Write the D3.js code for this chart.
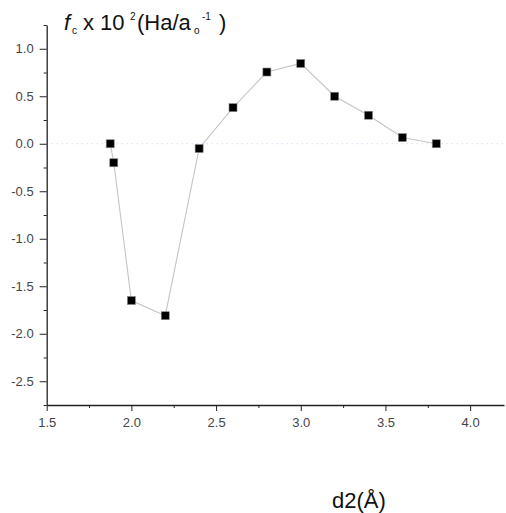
<!DOCTYPE html>
<html>
<head>
<meta charset="utf-8">
<script src="https://cdn.jsdelivr.net/npm/d3@7.9.0/dist/d3.min.js"></script>
<style>
  body { margin: 0; background: #fff; }
  svg { display: block; font-family: "Liberation Sans", Arial, sans-serif; }
</style>
</head>
<body>
<svg id="chart" width="506" height="513"></svg>
<script>
// Data
const d2 = [1.875, 1.896, 2.0, 2.2, 2.4, 2.6, 2.8, 3.0, 3.2, 3.4, 3.6, 3.8];
const fc = [0.0, -0.2, -1.65, -1.81, -0.05, 0.38, 0.755, 0.845, 0.5, 0.3, 0.065, 0.0];
const xTicks = [1.5, 2.0, 2.5, 3.0, 3.5, 4.0];
const yTicks = [-2.5, -2.0, -1.5, -1.0, -0.5, 0.0, 0.5, 1.0];

const svg = d3.select("#chart");

const x = d3.scaleLinear().domain([1.5, 4.2]).range([46.7, 504]);
const y = d3.scaleLinear().domain([-2.75, 1.25]).range([405, 25]);

const points = d2.map((v, i) => ({ x: v, y: fc[i] }));

const isMajor = (list, d) => list.some(t => Math.abs(t - d) < 1e-6);
const fmt = d => d3.format(".1f")(d).replace("−", "-");

// zero reference line
svg.append("line")
  .attr("x1", x(1.5)).attr("x2", 506)
  .attr("y1", y(0)).attr("y2", y(0))
  .attr("stroke", "#c8c8f0")
  .attr("stroke-width", 1)
  .attr("stroke-dasharray", "1,4");

// axes
const xAxis = d3.axisBottom(x)
  .tickValues(d3.range(1.5, 4.21, 0.25))
  .tickFormat(d => isMajor(xTicks, d) ? fmt(d) : "")
  .tickSizeOuter(0);

const gx = svg.append("g")
  .attr("transform", `translate(0,${y.range()[0]})`)
  .call(xAxis);

gx.selectAll(".tick line")
  .attr("y2", d => isMajor(xTicks, d) ? 6 : 3);

const yAxis = d3.axisLeft(y)
  .tickValues(d3.range(-2.75, 1.26, 0.25))
  .tickFormat(d => isMajor(yTicks, d) ? fmt(d) : "")
  .tickSizeOuter(0);

const gy = svg.append("g")
  .attr("transform", `translate(${x.range()[0]},0)`)
  .call(yAxis);

gy.selectAll(".tick line")
  .attr("x2", d => isMajor(yTicks, d) ? -7 : -3);

[gx, gy].forEach(g => {
  g.select(".domain").attr("stroke", "#222").attr("stroke-width", 1.3);
  g.selectAll(".tick line").attr("stroke", "#222");
  g.selectAll(".tick text")
    .attr("fill", "#444")
    .style("font-size", "13px")
    .style("font-family", "'Liberation Sans', Arial, sans-serif");
});
gx.selectAll(".tick text").attr("y", 10).attr("dy", "0.95em");
gy.selectAll(".tick text").attr("x", -13);

// data line
svg.append("path")
  .datum(points)
  .attr("fill", "none")
  .attr("stroke", "#c4c4c4")
  .attr("stroke-width", 1.1)
  .attr("d", d3.line().x(d => x(d.x)).y(d => y(d.y)));

// square markers
svg.selectAll("rect.pt")
  .data(points)
  .join("rect")
  .attr("class", "pt")
  .attr("x", d => x(d.x) - 4)
  .attr("y", d => y(d.y) - 4)
  .attr("width", 8)
  .attr("height", 8)
  .attr("fill", "#000")
  .attr("stroke", "#888")
  .attr("stroke-width", 0.6);

// y title
const title = svg.append("text")
  .attr("y", 30)
  .attr("fill", "#111")
  .style("font-size", "22px");
title.append("tspan").attr("x", 64).attr("font-style", "italic").text("f");
title.append("tspan").attr("x", 72).attr("dy", 4).style("font-size", "10px").text("c");
title.append("tspan").attr("x", 83).attr("dy", -4).text("x 10");
title.append("tspan").attr("x", 130).attr("dy", -10).style("font-size", "10px").text("2");
title.append("tspan").attr("x", 137).attr("dy", 10).text("(Ha/a");
title.append("tspan").attr("x", 194).attr("dy", 4).style("font-size", "10px").text("o");
title.append("tspan").attr("x", 202).attr("dy", -14).style("font-size", "10px").text("-1");
title.append("tspan").attr("x", 219).attr("dy", 10).text(")");

// x title
svg.append("text")
  .attr("x", 332)
  .attr("y", 508)
  .attr("fill", "#111")
  .style("font-size", "22px")
  .text("d2(Å)");
</script>
</body>
</html>
